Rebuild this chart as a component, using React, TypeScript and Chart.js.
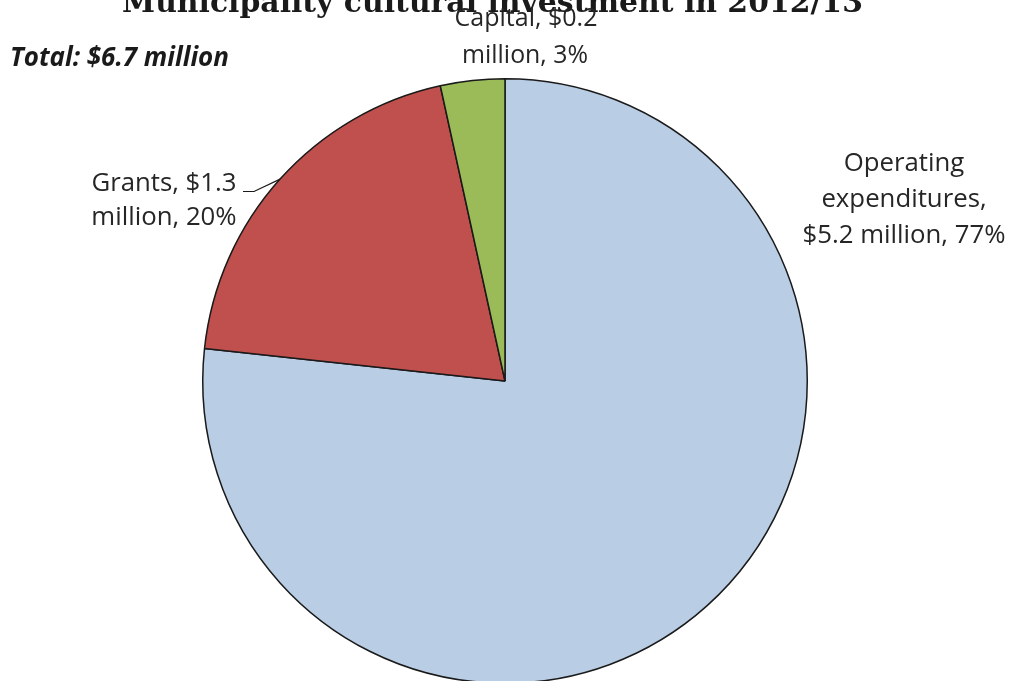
import React, { useEffect, useRef } from "react";
import { Chart, registerables } from "chart.js";

Chart.register(...registerables);

const categories = ["Operating expenditures", "Grants", "Capital"];
const values = [5.14, 1.33, 0.23]; // $ millions
const labelLines = [
  ["Operating", "expenditures,", "$5.2 million, 77%"],
  ["Grants, $1.3", "million, 20%"],
  ["Capital, $0.2", "million, 3%"],
];
const colors = ["#B9CDE5", "#C0504D", "#9BBB59"];
const titleText = "Municipality cultural investment in 2012/13";
const totalText = "Total: $6.7 million";

const TEXT = "#262626";
const LABEL_FAMILY = "'Open Sans', 'Noto Sans', sans-serif";

// draws text sized so that it spans the target width; optional height size with x-scale
function fitText(
  ctx: CanvasRenderingContext2D,
  text: string,
  prefix: string,
  family: string,
  size: number,
  targetW: number,
  x: number,
  y: number,
  align: "left" | "center",
  keepSize = false
) {
  ctx.font = `${prefix} ${size}px ${family}`;
  const w = ctx.measureText(text).width;
  let sx = 1;
  if (keepSize) {
    sx = targetW / w;
  } else {
    ctx.font = `${prefix} ${(size * targetW) / w}px ${family}`;
  }
  ctx.save();
  ctx.translate(x, y);
  ctx.scale(sx, 1);
  ctx.textAlign = align;
  ctx.fillText(text, 0, 0);
  ctx.restore();
}

const overlay = {
  id: "overlay",
  afterDraw(chart: any) {
    const ctx = chart.ctx as CanvasRenderingContext2D;
    ctx.save();
    ctx.textBaseline = "alphabetic";
    // title
    ctx.fillStyle = "#1a1a1a";
    fitText(ctx, titleText, "bold", "'DejaVu Serif', serif", 32, 741, 492.5, 12, "center");

    // total
    ctx.textBaseline = "middle";
    fitText(ctx, totalText, "italic bold", "'Open Sans', sans-serif", 22, 219, 10, 59, "left");

    ctx.fillStyle = TEXT;
    const base = 23;
    ctx.font = `${base}px ${LABEL_FAMILY}`;
    const scaleW = 203 / ctx.measureText(labelLines[0][2]).width;
    const fs = base * scaleW;
    ctx.font = `${fs}px ${LABEL_FAMILY}`;
    ctx.textAlign = "center";
    ctx.textBaseline = "middle";
    labelLines[0].forEach((t, i) => ctx.fillText(t, 904, 164 + i * 36));
    labelLines[1].forEach((t, i) => ctx.fillText(t, 164, 184 + i * 34));
    // capital label: condensed
    fitText(ctx, labelLines[2][0], "", LABEL_FAMILY, fs, 143, 526, 19, "center", true);
    fitText(ctx, labelLines[2][1], "", LABEL_FAMILY, fs, 126, 525, 56, "center", true);

    // leader line for grants
    const meta = chart.getDatasetMeta(0);
    const arc = meta.data[1];
    const mid = (arc.startAngle + arc.endAngle) / 2;
    const ex = arc.x + Math.cos(mid) * arc.outerRadius;
    const ey = arc.y + Math.sin(mid) * arc.outerRadius;
    ctx.strokeStyle = "#1a1a1a";
    ctx.lineWidth = 1.2;
    ctx.beginPath();
    ctx.moveTo(243, 191.5);
    ctx.lineTo(254, 191.5);
    ctx.lineTo(ex, ey);
    ctx.stroke();
    ctx.restore();
  },
};

export default function App() {
  const ref = useRef<HTMLCanvasElement>(null);
  useEffect(() => {
    const chart = new Chart(ref.current!, {
      type: "pie",
      data: {
        labels: categories,
        datasets: [
          {
            data: values,
            backgroundColor: colors,
            borderColor: "#1a1a1a",
            borderWidth: 1.5,
          },
        ],
      },
      options: {
        responsive: false,
        animation: false,
        devicePixelRatio: 1,
        layout: { padding: { top: 77.5, bottom: 15.5, left: 202, right: 205 } },
        plugins: {
          legend: { display: false },
          tooltip: { enabled: false },
          title: { display: false },
        },
      },
      plugins: [overlay],
    });
    return () => chart.destroy();
  }, []);
  return (
    <div
      style={{
        position: "fixed",
        left: 0,
        top: 0,
        width: 1013,
        height: 681,
        overflow: "hidden",
        background: "#fff",
      }}
    >
      <canvas ref={ref} width={1013} height={700} style={{ display: "block" }} />
    </div>
  );
}
